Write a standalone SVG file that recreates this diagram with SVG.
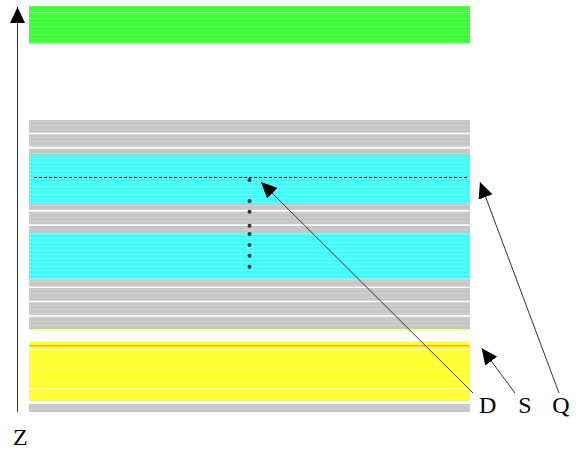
<svg xmlns="http://www.w3.org/2000/svg" width="584" height="450" viewBox="0 0 584 450">
<style>
.lbl{font-family:"Liberation Serif","Times New Roman",serif;font-size:24px;fill:#000}
.grey{fill:url(#pGrey)}
.cyan{fill:url(#pCyan)}
.conn{stroke:#333;stroke-width:1;fill:none;marker-end:url(#ah)}
.dot{fill:#333}
</style>
<defs>
<pattern id="pGrey" patternUnits="userSpaceOnUse" width="10" height="4">
<rect width="10" height="4" fill="#c6c6c6"/>
<rect y="1" width="10" height="1" fill="#cfcfcf"/>
</pattern>
<pattern id="pCyan" patternUnits="userSpaceOnUse" width="10" height="4">
<rect width="10" height="4" fill="#3ffdfd"/>
<rect y="2" width="10" height="1" fill="#6ffefe"/>
</pattern>
<pattern id="pGreen" patternUnits="userSpaceOnUse" width="10" height="4">
<rect width="10" height="4" fill="#40fb3a"/>
<rect y="2" width="10" height="1" fill="#55ff50"/>
</pattern>
<pattern id="pYellow" patternUnits="userSpaceOnUse" width="10" height="5">
<rect width="10" height="5" fill="#ffff2e"/>
<rect y="3" width="10" height="1" fill="#ffff50"/>
</pattern>
<marker id="ah" markerUnits="userSpaceOnUse" markerWidth="17" markerHeight="15" refX="16" refY="7.5" orient="auto">
<path d="M0,0 L16,7.5 L0,15 Z" fill="#000"/>
</marker>
</defs>

<g id="layer-green">
<rect x="29" y="6" width="441" height="37.5" fill="url(#pGreen)"/>
<rect x="29" y="12" width="441" height="1" fill="#7aff75"/>
</g>

<g id="layer-grey-top">
<rect class="grey" x="29" y="120" width="441" height="12.7"/>
<rect class="grey" x="29" y="134.3" width="441" height="12.4"/>
<rect class="grey" x="29" y="148.7" width="441" height="6.3"/>
</g>

<g id="layer-cyan-1">
<rect class="cyan" x="29" y="155" width="441" height="49"/>
</g>

<g id="layer-grey-mid">
<rect class="grey" x="29" y="204" width="441" height="6"/>
<rect class="grey" x="29" y="211.7" width="441" height="12.6"/>
<rect class="grey" x="29" y="226" width="441" height="7.3"/>
</g>

<g id="layer-cyan-2">
<rect class="cyan" x="29" y="233.3" width="441" height="46"/>
</g>

<g id="layer-grey-low">
<rect class="grey" x="29" y="279.3" width="441" height="7.4"/>
<rect class="grey" x="29" y="288" width="441" height="12.7"/>
<rect class="grey" x="29" y="302.3" width="441" height="12.7"/>
<rect class="grey" x="29" y="316.7" width="441" height="12.6"/>
<rect x="29" y="329.3" width="441" height="1.7" fill="#ffff80"/>
</g>

<g id="layer-yellow">
<rect x="29" y="341.7" width="441" height="59.3" fill="url(#pYellow)"/>
<rect x="29" y="345.2" width="441" height="1.2" fill="#ff9a3a"/>
<rect x="29" y="349.2" width="441" height="1.3" fill="#ffffd0"/>
<rect x="29" y="388" width="441" height="1.3" fill="#ffffd0"/>
</g>

<g id="layer-grey-bottom">
<rect class="grey" x="29" y="404" width="441" height="8"/>
</g>

<g id="marker-line">
<line x1="34" y1="177.5" x2="468" y2="177.5" stroke="#000" stroke-width="1" stroke-dasharray="3,2"/>
<circle class="dot" cx="249.5" cy="180" r="2"/>
<circle class="dot" cx="249.5" cy="201" r="2"/>
<circle class="dot" cx="249.5" cy="211.7" r="2"/>
<circle class="dot" cx="249.5" cy="225.7" r="2"/>
<circle class="dot" cx="249.5" cy="234" r="2"/>
<circle class="dot" cx="249.5" cy="245" r="2"/>
<circle class="dot" cx="249.5" cy="255.7" r="2"/>
<circle class="dot" cx="249.5" cy="266.7" r="2"/>
</g>

<g id="connectors">
<line class="conn" x1="17.5" y1="412" x2="17.5" y2="7" stroke="#555"/>
<line class="conn" x1="473" y1="393" x2="261" y2="182"/>
<line class="conn" x1="515" y1="393" x2="481.7" y2="348.3"/>
<line class="conn" x1="559" y1="393" x2="480" y2="182"/>
</g>

<g id="labels">
<text class="lbl" x="479" y="413">D</text>
<text class="lbl" x="525" y="413" text-anchor="middle">S</text>
<text class="lbl" x="561" y="413" text-anchor="middle">Q</text>
<text class="lbl" x="13" y="445">Z</text>
</g>
</svg>
